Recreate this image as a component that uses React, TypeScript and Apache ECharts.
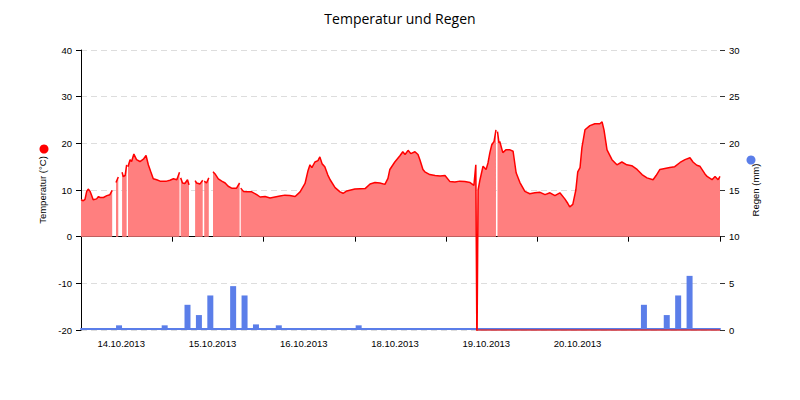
import React, { useEffect, useRef } from "react";
import * as echarts from "echarts";

// Category labels of the day bands along the x axis (hours 0..168, 24 h per band)
const dayLabels = ["14.10.2013", "15.10.2013", "16.10.2013", "18.10.2013", "19.10.2013", "20.10.2013", ""];

// Temperature readings: hour offset and value (°C); null = missing reading
const tempHours = [
  0, 0.6, 1.05, 1.5, 1.9, 2.4, 2.8, 3.2, 4.1, 4.6, 5.0, 5.9, 6.8, 7.6, 8.2, 8.6, 9.2, 9.8, 10.3, 10.8,
  11.1, 11.6, 12.0, 12.15, 12.35, 12.9, 13.3, 13.9, 14.6, 15.5, 16.4, 17.1, 17.7, 18.3, 19.0, 19.9, 20.8, 22.5, 23.4, 24.3,
  25.2, 25.9, 26.05, 26.2, 26.7, 27.3, 28.0, 28.4, 29.2, 30.0, 30.4, 31.3, 32.0, 32.2, 32.4, 33.0, 33.6, 34.2, 34.7, 35.2,
  36.1, 37.0, 37.9, 38.7, 39.6, 40.9, 41.7, 41.85, 42.0, 42.7, 43.6, 44.9, 46.2, 47.1, 48.4, 49.7, 51.0, 52.3, 53.6, 54.9,
  56.3, 57.6, 58.9, 59.7, 60.2, 60.7, 61.5, 62.3, 62.8, 63.4, 64.1, 64.9, 65.5, 66.8, 68.1, 68.9, 69.9, 72.0, 74.7, 76.0,
  77.3, 78.6, 79.9, 80.7, 81.2, 82.5, 83.9, 84.6, 85.2, 86.0, 86.7, 87.8, 88.6, 89.1, 89.9, 90.4, 91.7, 93.1, 94.4, 95.7,
  97.0, 98.3, 99.6, 100.9, 102.3, 103.3, 103.8, 104.1, 104.4, 104.9, 105.7, 106.5, 107.0, 107.5, 108.0, 108.6, 109.1, 109.3, 109.5, 109.9,
  110.1, 110.9, 111.7, 112.8, 113.6, 114.4, 115.4, 116.7, 118.0, 119.3, 120.7, 122.0, 123.3, 124.6, 125.9, 127.2, 128.0, 128.5, 129.3, 130.1,
  130.6, 131.2, 131.7, 132.5, 133.8, 135.1, 136.4, 137.0, 137.5, 138.3, 139.6, 140.9, 142.2, 143.5, 144.8, 146.2, 147.5, 148.8, 150.4, 151.2,
  152.2, 153.5, 154.8, 156.1, 157.5, 158.8, 160.1, 160.9, 161.9, 162.7, 164.0, 164.6, 165.9, 166.7, 167.5, 168.0,
];
const tempValues: (number | null)[] = [
  7.9, 7.7, 8.0, 9.7, 10.2, 9.7, 8.8, 7.9, 8.1, 8.6, 8.4, 8.4, 8.8, 9.0, 9.9, null, 11.6, 12.8, null, 13.8,
  12.9, 13.1, 15.4, null, 15.0, 16.5, 16.1, 17.7, 16.5, 16.1, 16.6, 17.4, 15.4, 14.0, 12.4, 12.2, 11.9, 11.9, 12.1, 12.4,
  12.2, 13.8, null, 12.6, 11.5, 11.4, 12.2, 11.1, null, 12.0, 11.5, 11.3, 12.1, null, 11.9, 11.5, 12.6, null, 13.9, 13.5,
  12.4, 11.9, 11.5, 10.8, 10.4, 10.4, 11.5, null, 10.4, 9.7, 9.6, 9.6, 9.0, 8.5, 8.6, 8.3, 8.5, 8.7, 8.9, 8.8,
  8.6, 9.6, 11.4, 14.2, 15.4, 14.8, 16.0, 16.3, 17.1, 15.6, 15.0, 13.2, 12.2, 10.5, 9.6, 9.3, 9.8, 10.2, 10.3, 11.3,
  11.6, 11.5, 11.2, 12.5, 14.4, 16.0, 17.4, 18.2, 17.6, 18.5, 17.8, 18.2, 17.6, 16.5, 14.4, 13.9, 13.3, 13.1, 13.0, 13.1,
  11.8, 11.7, 11.9, 11.8, 11.6, 11.0, 15.4, -25, 10.0, 12.2, 15.1, 14.4, 15.8, 18.0, 19.7, 20.4, 22.9, null, 22.5, 20.1,
  20.4, 18.0, 18.6, 18.6, 18.3, 13.7, 11.6, 9.7, 9.2, 9.4, 9.5, 9.0, 9.4, 8.8, 9.4, 8.1, 7.1, 6.4, 6.9, 10.0,
  13.9, 14.8, 19.1, 22.9, 23.8, 24.2, 24.2, 24.6, 22.9, 18.6, 16.5, 15.4, 16.0, 15.4, 15.2, 14.4, 13.3, 12.6, 12.2, 13.1,
  14.4, 14.6, 14.8, 15.0, 15.9, 16.5, 16.9, 16.0, 15.3, 15.1, 13.5, 12.9, 12.2, 12.9, 12.2, 12.9,
];

// Rain (mm) per 3-hour slot, hour offset of the slot
const rainHours = [10, 22, 28, 31, 34, 40, 43, 46, 52, 73, 148, 154, 157, 160];
const rainValues = [0.5, 0.5, 2.7, 1.6, 3.7, 4.7, 3.7, 0.6, 0.5, 0.5, 2.7, 1.6, 3.7, 5.8];

// Sensor fault: reading stuck at the bottom of the scale from this hour on
const faultStartHour = 104.1;
const faultEndHour = 168;
const faultValue = -20;

const FONT = "Liberation Sans";
const RED = "#ff0000";
const BLUE = "#5b7ee9";

export default function App() {
  const ref = useRef<HTMLDivElement>(null);
  useEffect(() => {
    if (!ref.current) return;
    const chart = echarts.init(ref.current, undefined, { renderer: "svg" });
    const tempData = tempHours.map((h, i) => [h, tempValues[i] === null ? "-" : tempValues[i]]);
    const rainData = rainHours.map((h, i) => [h, rainValues[i]]);
    chart.setOption({
      animation: false,
      backgroundColor: "#fff",
      title: {
        text: "Temperatur und Regen",
        left: "center",
        top: 6,
        textStyle: { fontFamily: "Open Sans", fontSize: 14, fontWeight: "normal", color: "#000" },
      },
      grid: { left: 81, right: 80, top: 50, bottom: 70, containLabel: false },
      xAxis: [
        {
          type: "category",
          data: dayLabels,
          boundaryGap: true,
          axisLine: { show: true, lineStyle: { color: "#000", width: 1 } },
          axisTick: { show: true, length: 5, lineStyle: { color: "#000" }, interval: 0 },
          axisLabel: {
            fontFamily: FONT,
            fontSize: 9.5,
            color: "#000",
            interval: 0,
            margin: 8,
            padding: [0, 11, 0, 0],
          },
          splitLine: { show: false },
          z: 1,
        },
        {
          type: "value",
          min: 0,
          max: 168,
          position: "bottom",
          offset: -1,
          axisLine: { show: true, lineStyle: { color: BLUE, width: 2 } },
          axisTick: { show: false },
          axisLabel: { show: false },
          splitLine: { show: false },
        },
      ],
      yAxis: [
        {
          type: "value",
          min: -20,
          max: 40,
          interval: 10,
          name: "Temperatur (°C)",
          nameLocation: "middle",
          nameRotate: 90,
          nameGap: 34,
          nameTextStyle: { fontFamily: FONT, fontSize: 9.5, color: "#000" },
          axisLine: { show: true, lineStyle: { color: "#000" } },
          axisTick: { show: true, length: 5, lineStyle: { color: "#000" } },
          axisLabel: { fontFamily: FONT, fontSize: 9.5, color: "#000", margin: 9 },
          splitLine: { show: true, lineStyle: { color: "#dddddd", type: [6, 4] } },
        },
        {
          type: "value",
          min: 0,
          max: 30,
          interval: 5,
          name: "Regen (mm)",
          nameLocation: "middle",
          nameRotate: 90,
          nameGap: 25,
          nameTextStyle: { fontFamily: FONT, fontSize: 9.5, color: "#000" },
          axisLine: { show: false },
          axisTick: { show: true, length: 5, lineStyle: { color: "#333" } },
          axisLabel: { fontFamily: FONT, fontSize: 9.5, color: "#000", margin: 9 },
          splitLine: { show: false },
        },
      ],
      series: [
        {
          name: "Regen",
          type: "bar",
          xAxisIndex: 1,
          yAxisIndex: 1,
          data: rainData,
          barWidth: 6,
          itemStyle: { color: BLUE },
          z: 2,
        },
        {
          name: "Temperatur",
          type: "line",
          xAxisIndex: 1,
          yAxisIndex: 0,
          data: tempData,
          showSymbol: false,
          connectNulls: false,
          lineStyle: { color: RED, width: 1.5 },
          itemStyle: { color: RED },
          areaStyle: { color: "#ff7f7f", opacity: 1 },
          z: 3,
          markLine: {
            silent: true,
            symbol: ["none", "none"],
            label: { show: false },
            lineStyle: { color: "#d0303a", width: 1.5, type: "solid" },
            data: [[{ coord: [faultStartHour, faultValue] }, { coord: [faultEndHour, faultValue] }]],
          },
        },
      ],
      graphic: [
        { type: "circle", shape: { cx: 44, cy: 149, r: 4.5 }, style: { fill: RED } },
        { type: "circle", shape: { cx: 751, cy: 160, r: 4.5 }, style: { fill: BLUE } },
      ],
    });
    return () => chart.dispose();
  }, []);
  return <div ref={ref} style={{ width: 800, height: 400, position: "absolute", left: 0, top: 0 }} />;
}
